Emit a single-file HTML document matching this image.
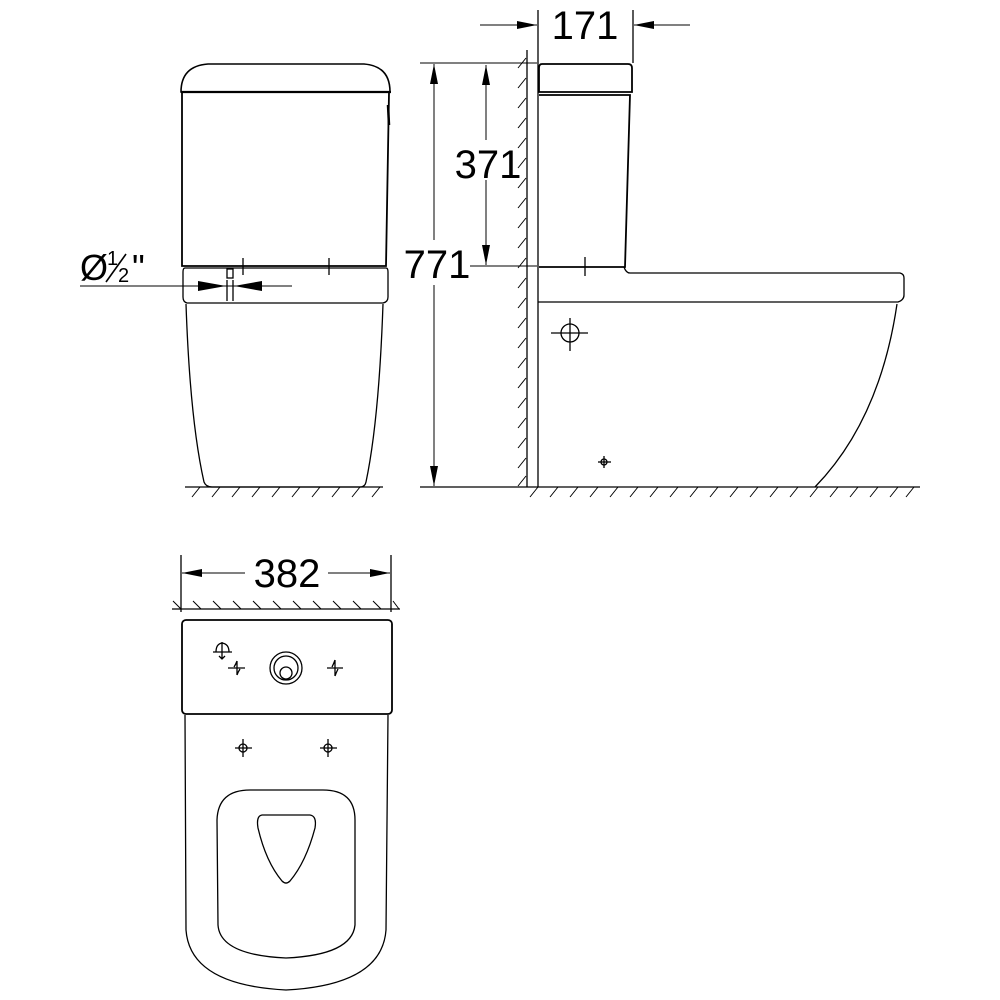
<!DOCTYPE html>
<html><head><meta charset="utf-8"><style>
html,body{margin:0;padding:0;background:#fff;}
svg{display:block;}
text{font-family:"Liberation Sans",sans-serif;fill:#000;}
</style></head><body>
<svg width="1000" height="1000" viewBox="0 0 1000 1000" xmlns="http://www.w3.org/2000/svg" fill="none" stroke="#000" stroke-width="1.3">
<defs>
<marker id="a" viewBox="0 0 20 8" refX="20" refY="4" markerWidth="20" markerHeight="8" markerUnits="userSpaceOnUse" orient="auto"><path d="M0,0 L20,4 L0,8 Z" fill="#000" stroke="none"/></marker>
</defs>

<!-- FRONT VIEW -->
<path d="M181,92 Q181,66 208,64 L364,64 Q390,66 390,92 Z" stroke-width="1.6"/>
<line x1="181" y1="92" x2="391" y2="92" stroke-width="2.2"/>
<path d="M182,93 L182,266 L386,266 L389,93" stroke-width="1.8"/>
<path d="M388,105 L389,125" stroke-width="2.5"/>
<path d="M185,268 L386,268 Q388,268 388,272 L388,297 Q388,302 383,303 L187,303 Q183,302 183,297 L183,272 Q183,268 185,268 Z"/>
<path d="M186,304 Q190,420 204,482 Q206,487 212,487 L360,487 Q365,487 366,482 Q379,420 383,304"/>
<line x1="243" y1="258" x2="243" y2="275"/>
<line x1="329" y1="258" x2="329" y2="275"/>
<rect x="227" y="269" width="6" height="9"/>
<line x1="227" y1="280" x2="227" y2="301"/>
<line x1="233" y1="280" x2="233" y2="301"/>
<line x1="80" y1="286" x2="292" y2="286" stroke-width="1"/>
<path d="M198,281 L226,286 L198,291 Z" fill="#000" stroke="none"/>
<path d="M262,281 L234,286 L262,291 Z" fill="#000" stroke="none"/>
<text x="80" y="280" font-size="36" stroke="none">Ø</text>
<text x="107" y="265" font-size="20" stroke="none">1</text>
<line x1="106" y1="282" x2="126" y2="254" stroke-width="1.6"/>
<text x="118" y="282" font-size="20" stroke="none">2</text>
<text x="132" y="280" font-size="36" stroke="none">"</text>
<line x1="185" y1="487" x2="383" y2="487"/>
<g stroke-width="1">
<path d="M192,497l8,-10M212,497l8,-10M232,497l8,-10M252,497l8,-10M272,497l8,-10M292,497l8,-10M312,497l8,-10M332,497l8,-10M352,497l8,-10M372,497l8,-10"/>
</g>

<!-- SIDE VIEW -->
<line x1="527" y1="50" x2="527" y2="487"/>
<line x1="538" y1="10" x2="538" y2="487"/>
<line x1="633" y1="10" x2="633" y2="63"/>
<g stroke-width="1">
<path d="M518,68l8,-10M518,88l8,-10M518,108l8,-10M518,128l8,-10M518,148l8,-10M518,168l8,-10M518,188l8,-10M518,208l8,-10M518,228l8,-10M518,248l8,-10M518,268l8,-10M518,288l8,-10M518,308l8,-10M518,328l8,-10M518,348l8,-10M518,368l8,-10M518,388l8,-10M518,408l8,-10M518,428l8,-10M518,448l8,-10M518,468l8,-10M518,486l8,-10"/>
</g>
<line x1="480" y1="25" x2="537" y2="25" marker-end="url(#a)" stroke-width="1"/>
<line x1="690" y1="25" x2="634" y2="25" marker-end="url(#a)" stroke-width="1"/>
<text x="585" y="39" font-size="40" text-anchor="middle" stroke="none">171</text>
<path d="M542,64 L628,64 Q632,64 632,68 L632,92 L539,92 L539,68 Q539,64 542,64 Z" stroke-width="1.8"/>
<path d="M539,95 L630,95 L625,267 L539,267" stroke-width="1.8"/>
<line x1="585" y1="257" x2="585" y2="276"/>
<path d="M624,267 Q626,273 630,273 L900,273 Q904,274 904,278 L904,295 Q904,300 898,302 L538,302"/>
<path d="M897,304 Q880,420 815,487"/>
<circle cx="570" cy="333" r="9"/>
<line x1="551" y1="333" x2="588" y2="333"/>
<line x1="570" y1="318" x2="570" y2="351"/>
<circle cx="604" cy="462" r="3"/>
<line x1="598" y1="462" x2="611" y2="462"/>
<line x1="604" y1="456" x2="604" y2="468"/>
<line x1="420" y1="63" x2="537" y2="63" stroke-width="1"/>
<line x1="470" y1="266" x2="537" y2="266" stroke-width="1"/>
<line x1="420" y1="487" x2="920" y2="487"/>
<line x1="486" y1="140" x2="486" y2="65" marker-end="url(#a)" stroke-width="1"/>
<line x1="486" y1="180" x2="486" y2="265" marker-end="url(#a)" stroke-width="1"/>
<text x="488" y="178" font-size="40" text-anchor="middle" stroke="none">371</text>
<line x1="434" y1="240" x2="434" y2="64" marker-end="url(#a)" stroke-width="1"/>
<line x1="434" y1="285" x2="434" y2="486" marker-end="url(#a)" stroke-width="1"/>
<text x="437" y="278" font-size="40" text-anchor="middle" stroke="none">771</text>
<g stroke-width="1">
<path d="M530,497l8,-10M550,497l8,-10M570,497l8,-10M590,497l8,-10M610,497l8,-10M630,497l8,-10M650,497l8,-10M670,497l8,-10M690,497l8,-10M710,497l8,-10M730,497l8,-10M750,497l8,-10M770,497l8,-10M790,497l8,-10M810,497l8,-10M830,497l8,-10M850,497l8,-10M870,497l8,-10M890,497l8,-10M906,497l8,-10"/>
</g>

<!-- TOP VIEW -->
<line x1="181" y1="555" x2="181" y2="612"/>
<line x1="391" y1="555" x2="391" y2="612"/>
<line x1="245" y1="573" x2="182" y2="573" marker-end="url(#a)" stroke-width="1"/>
<line x1="328" y1="573" x2="390" y2="573" marker-end="url(#a)" stroke-width="1"/>
<text x="287" y="587" font-size="40" text-anchor="middle" stroke="none">382</text>
<line x1="172" y1="609" x2="400" y2="609"/>
<g stroke-width="1">
<path d="M173,601l8,8M193,601l8,8M213,601l8,8M233,601l8,8M253,601l8,8M273,601l8,8M293,601l8,8M313,601l8,8M333,601l8,8M353,601l8,8M373,601l8,8M393,601l6,8"/>
</g>
<rect x="182" y="620" width="210" height="94" rx="4" stroke-width="1.8"/>
<circle cx="286" cy="668" r="16"/>
<circle cx="286" cy="668" r="12"/>
<circle cx="286" cy="673" r="6"/>
<path d="M213,652 L232,652 M222,642 L222,658 M216,652 Q216,644 222,643 Q229,644 229,652 M219,656 L222,659 L225,656"/>
<path d="M228,668 L245,668 M237,661 L237,675 M234,667 Q236,664 237,661 M240,669 Q238,672 237,675"/>
<path d="M327,668 L343,668 M335,660 L335,676 M332,667 Q334,663 335,660 M338,669 Q336,673 335,676"/>
<circle cx="243" cy="748" r="4"/><line x1="235" y1="748" x2="252" y2="748"/><line x1="243" y1="739" x2="243" y2="757"/>
<circle cx="328" cy="748" r="4"/><line x1="320" y1="748" x2="337" y2="748"/><line x1="328" y1="739" x2="328" y2="757"/>
<path d="M185,715 L186,930 Q190,985 286,990 Q382,985 386,930 L388,715"/>
<path d="M217,820 Q218,790 250,790 L323,790 Q355,790 355,820 L355,925 Q352,955 286,958 Q220,955 218,925 Z"/>
<path d="M262,815 L310,815 Q317,816 315,828 Q306,862 290,881 Q286,885 282,881 Q266,862 258,828 Q256,816 262,815 Z"/>
</svg>
</body></html>
